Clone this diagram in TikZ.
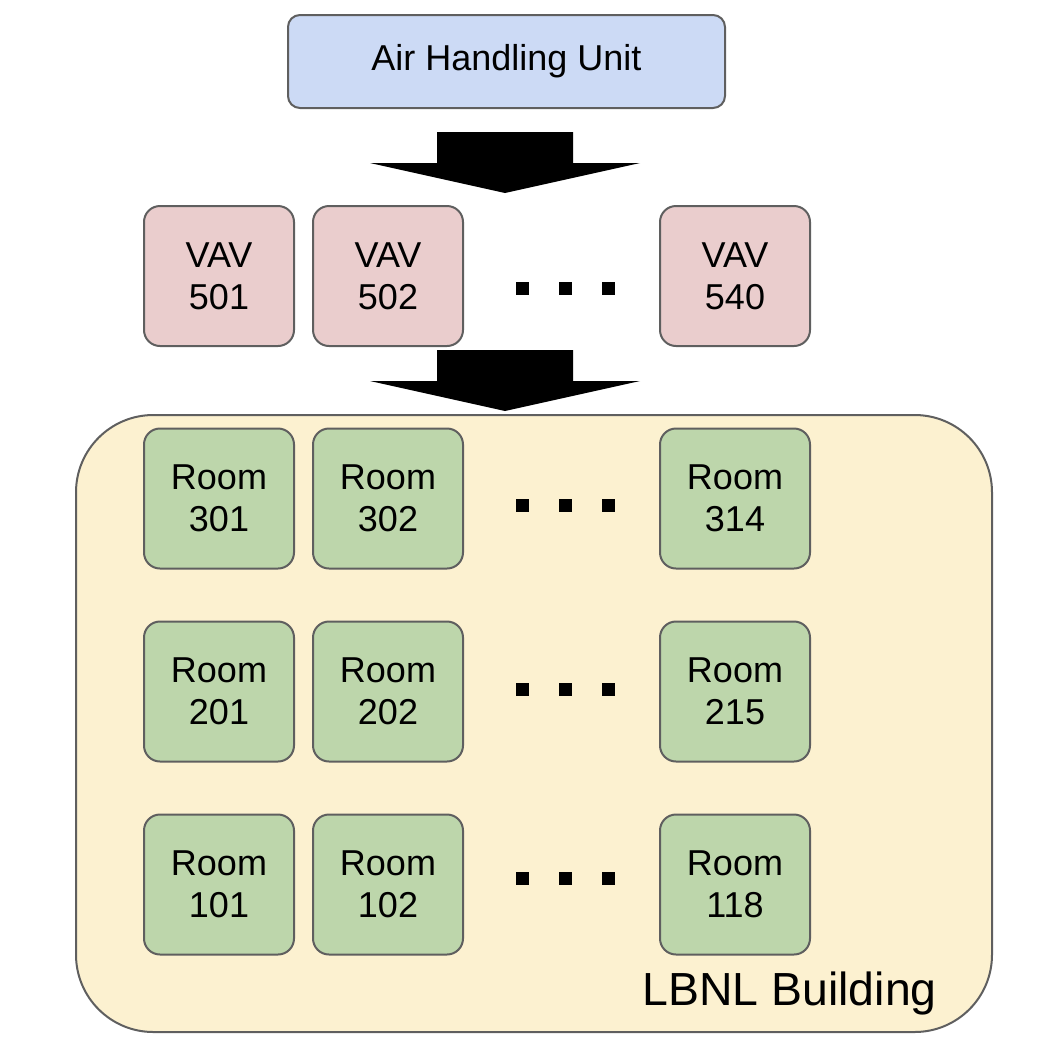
\documentclass[tikz,border=0pt]{standalone}
\usepackage{fontspec}
\setmainfont{Liberation Sans}
\usetikzlibrary{positioning}
\definecolor{edgegray}{RGB}{95,95,95}
\definecolor{ahublue}{RGB}{204,218,245}
\definecolor{vavred}{RGB}{234,205,205}
\definecolor{roomgreen}{RGB}{189,214,171}
\definecolor{bldgyellow}{RGB}{252,241,208}
% block arrow: #1 = centre x, #2 = top y
\newcommand{\flowarrow}[2]{%
  \fill ({#1-68},#2) -- ({#1+68},#2) -- ({#1+68},{#2+31}) -- ({#1+135},{#2+31})
    -- (#1,{#2+61}) -- ({#1-135},{#2+31}) -- ({#1-68},{#2+31}) -- cycle;}

\begin{document}
\begin{tikzpicture}[
  x=0.75pt, y=-0.75pt,
  box/.style={draw=edgegray, line width=1.5pt, rounded corners=12pt, align=center, inner sep=0pt,
    font=\fontsize{27}{31.5}\selectfont},
  vav/.style={box, fill=vavred, minimum width=112.5pt, minimum height=105pt},
  room/.style={box, fill=roomgreen, minimum width=112.5pt, minimum height=105pt}
]
  \useasboundingbox (0,0) rectangle (1056,1050);

  % building
  \draw[draw=edgegray, fill=bldgyellow, line width=1.5pt, rounded corners=58pt] (76,415) rectangle (992,1032);
  \node[anchor=base west, font=\fontsize{34.8}{42}\selectfont] (bldglabel) at (638,1005) {LBNL Building};

  \node[box, fill=ahublue, minimum width=327.75pt, minimum height=69.75pt, rounded corners=9pt,
        font=\fontsize{27}{32}\selectfont] (ahu) at (506.5,61.5) {Air Handling Unit};

  \node[vav] (vav501) at (219,276) {VAV\\501};
  \node[vav] (vav502) at (388,276) {VAV\\502};
  \node[vav] (vav540) at (735,276) {VAV\\540};

  \node[room] (r301) at (219,498.5) {Room\\301};
  \node[room] (r302) at (388,498.5) {Room\\302};
  \node[room] (r314) at (735,498.5) {Room\\314};

  \node[room] (r201) at (219,691.5) {Room\\201};
  \node[room] (r202) at (388,691.5) {Room\\202};
  \node[room] (r215) at (735,691.5) {Room\\215};

  \node[room] (r101) at (219,884.5) {Room\\101};
  \node[room] (r102) at (388,884.5) {Room\\102};
  \node[room] (r118) at (735,884.5) {Room\\118};

  \flowarrow{505}{132}
  \flowarrow{505}{350}

  % dots between columns
  \foreach \y in {288,505,689,878}
    \foreach \x in {522,565,608}
      \fill ({\x-6.5},{\y-6.5}) rectangle ({\x+6.5},{\y+6.5});
\end{tikzpicture}
\end{document}
